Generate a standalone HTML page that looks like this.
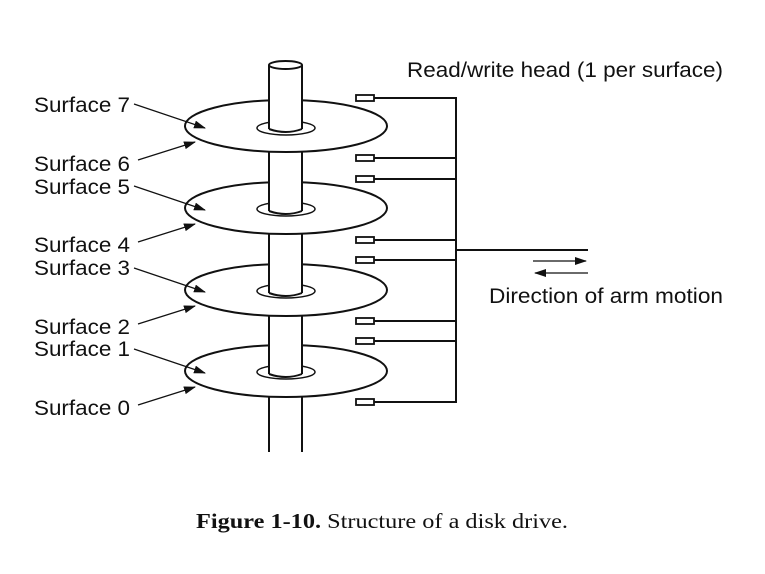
<!DOCTYPE html>
<html><head><style>body{margin:0;background:#fff}</style></head><body>
<svg width="765" height="569" xmlns="http://www.w3.org/2000/svg" font-family="Liberation Sans, sans-serif">
<defs><marker id="a" markerWidth="12" markerHeight="8" refX="11" refY="4" orient="auto" markerUnits="userSpaceOnUse"><path d="M0,0 L12,4 L0,8 z" fill="#111"/></marker></defs>
<g stroke="#111" stroke-width="2" fill="#fff">
<line x1="269" y1="380" x2="269" y2="452"/><line x1="302" y1="380" x2="302" y2="452"/>
<ellipse cx="286" cy="371" rx="101" ry="26"/><ellipse cx="286" cy="372" rx="29" ry="7" stroke-width="1.5"/>
<rect x="269" y="298" width="33" height="78" stroke="none"/><line x1="269" y1="298" x2="269" y2="374"/><line x1="302" y1="298" x2="302" y2="374"/><path d="M269,374 Q286,380 302,374" fill="none"/>
<ellipse cx="286" cy="290" rx="101" ry="26"/><ellipse cx="286" cy="291" rx="29" ry="7" stroke-width="1.5"/>
<rect x="269" y="216" width="33" height="78" stroke="none"/><line x1="269" y1="216" x2="269" y2="293"/><line x1="302" y1="216" x2="302" y2="293"/><path d="M269,293 Q286,299 302,293" fill="none"/>
<ellipse cx="286" cy="208" rx="101" ry="26"/><ellipse cx="286" cy="209" rx="29" ry="7" stroke-width="1.5"/>
<rect x="269" y="134" width="33" height="78" stroke="none"/><line x1="269" y1="134" x2="269" y2="211"/><line x1="302" y1="134" x2="302" y2="211"/><path d="M269,211 Q286,217 302,211" fill="none"/>
<ellipse cx="286" cy="126" rx="101" ry="26"/><ellipse cx="286" cy="128" rx="29" ry="7" stroke-width="1.5"/>
<rect x="269" y="65" width="33" height="65" stroke="none"/><line x1="269" y1="65" x2="269" y2="129"/><line x1="302" y1="65" x2="302" y2="129"/><path d="M269,129 Q286,135 302,129" fill="none"/>
<ellipse cx="285.5" cy="65" rx="16.5" ry="4"/>
<g stroke-width="1.8">
<rect x="356" y="95" width="18" height="6"/><rect x="356" y="155" width="18" height="6"/><rect x="356" y="176" width="18" height="6"/><rect x="356" y="237" width="18" height="6"/><rect x="356" y="257" width="18" height="6"/><rect x="356" y="318" width="18" height="6"/><rect x="356" y="338" width="18" height="6"/><rect x="356" y="399" width="18" height="6"/>
</g>
<path d="M374,98H456M374,158H456M374,179H456M374,240H456M374,260H456M374,321H456M374,341H456M374,402H456M456,97V403M456,250H588" fill="none"/>
<line x1="533" y1="261" x2="586" y2="261" stroke-width="1.3" marker-end="url(#a)"/>
<line x1="588" y1="273" x2="535" y2="273" stroke-width="1.3" marker-end="url(#a)"/>
<g stroke-width="1.2" fill="none" marker-end="url(#a)">
<line x1="134" y1="104" x2="205" y2="128"/><line x1="138" y1="160" x2="195" y2="142"/>
<line x1="134" y1="186" x2="205" y2="210"/><line x1="138" y1="242" x2="195" y2="224"/>
<line x1="134" y1="268" x2="205" y2="292"/><line x1="138" y1="324" x2="195" y2="306"/>
<line x1="134" y1="349" x2="205" y2="373"/><line x1="138" y1="405" x2="195" y2="387"/>
</g>
</g>
<g font-size="21" fill="#111" lengthAdjust="spacingAndGlyphs">
<text x="34" y="112" textLength="96" lengthAdjust="spacingAndGlyphs">Surface 7</text><text x="34" y="171" textLength="96" lengthAdjust="spacingAndGlyphs">Surface 6</text>
<text x="34" y="194" textLength="96" lengthAdjust="spacingAndGlyphs">Surface 5</text><text x="34" y="252" textLength="96" lengthAdjust="spacingAndGlyphs">Surface 4</text>
<text x="34" y="275" textLength="96" lengthAdjust="spacingAndGlyphs">Surface 3</text><text x="34" y="334" textLength="96" lengthAdjust="spacingAndGlyphs">Surface 2</text>
<text x="34" y="356" textLength="96" lengthAdjust="spacingAndGlyphs">Surface 1</text><text x="34" y="415" textLength="96" lengthAdjust="spacingAndGlyphs">Surface 0</text>
<text x="407" y="77" textLength="316" lengthAdjust="spacingAndGlyphs">Read/write head (1 per surface)</text>
<text x="489" y="303" textLength="234" lengthAdjust="spacingAndGlyphs">Direction of arm motion</text>
</g>
<text x="196" y="528" textLength="372" lengthAdjust="spacingAndGlyphs" font-family="Liberation Serif, serif" font-size="21" fill="#111"><tspan font-weight="bold">Figure 1-10.</tspan>  Structure of a disk drive.</text>
</svg>
</body></html>
